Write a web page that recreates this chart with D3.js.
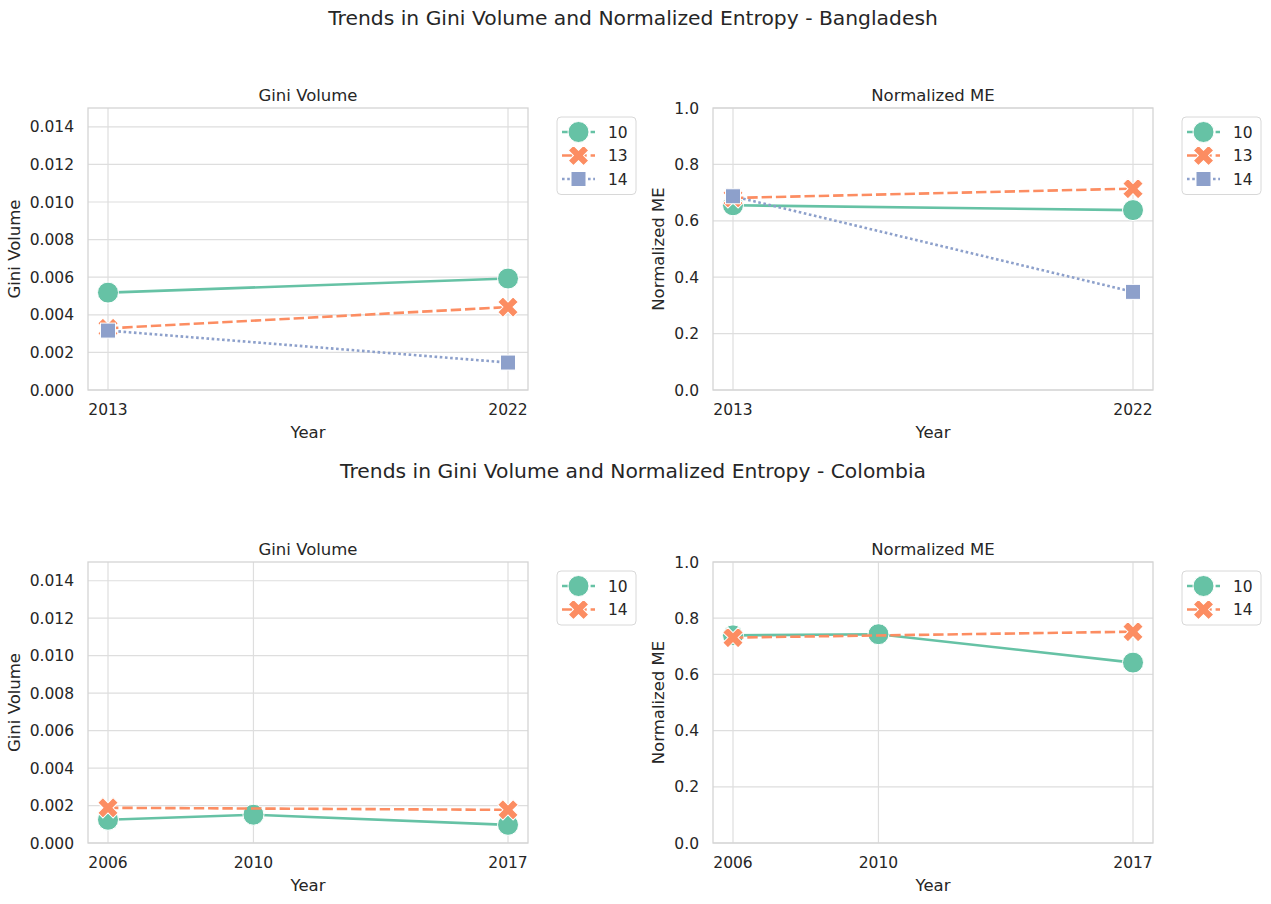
<!DOCTYPE html>
<html><head><meta charset="utf-8">
<script src="https://cdn.jsdelivr.net/npm/d3@7"></script>
<style>body{margin:0;background:#fff}text{font-family:"DejaVu Sans",sans-serif;fill:#262626}</style>
</head><body>
<svg id="c" width="1271" height="904"></svg>
<script>
// ---- data (null = no observation for that year) ----
const countries = ["Bangladesh", "Colombia"];
const bdYears = [2013, 2022];
const coYears = [2006, 2010, 2017];
const bdGroups = ["10", "13", "14"];
const coGroups = ["10", "14"];
const bdGini10 = [0.00518, 0.00593];
const bdGini13 = [0.00328, 0.00441];
const bdGini14 = [0.00316, 0.00146];
const bdNME10 = [0.655, 0.638];
const bdNME13 = [0.681, 0.714];
const bdNME14 = [0.687, 0.348];
const coGini10 = [0.00124, 0.00151, 0.00097];
const coGini14 = [0.00188, null, 0.00177];
const coNME10 = [0.739, 0.743, 0.642];
const coNME14 = [0.731, null, 0.752];
const giniTicks = [0, 0.002, 0.004, 0.006, 0.008, 0.010, 0.012, 0.014];
const nmeTicks = [0, 0.2, 0.4, 0.6, 0.8, 1.0];

// ---- styles ----
const colors = ["#66c2a5", "#fc8d62", "#8da0cb"];
const markers = ["circle", "x", "square"];
const LW = 2.6;
const dashes = ["none", `${4*LW},${1.5*LW}`, `${1*LW},${1*LW}`];

const svg = d3.select("#c");

function marker(g, type, x, y, color) {
  if (type === "circle") {
    g.append("circle").attr("cx", x).attr("cy", y).attr("r", 10.5)
      .attr("fill", color).attr("stroke", "#fff").attr("stroke-width", 1);
  } else if (type === "square") {
    g.append("rect").attr("x", x - 7.5).attr("y", y - 7.5).attr("width", 15).attr("height", 15)
      .attr("fill", color).attr("stroke", "#fff").attr("stroke-width", 1);
  } else {
    g.append("path").attr("d", d3.symbol(d3.symbolCross, 260)())
      .attr("transform", `translate(${x},${y}) rotate(45)`)
      .attr("fill", color).attr("stroke", "#fff").attr("stroke-width", 1);
  }
}

function panel(opt) {
  const {left, top, width, height, years, series, groups, yMax, ticks, fmt, title, ylabel, labelOff} = opt;
  const g = svg.append("g");
  const pad = width / 1.1 * 0.05;
  const x = d3.scaleLinear().domain([years[0], years[years.length - 1]]).range([left + pad, left + width - pad]);
  const y = d3.scaleLinear().domain([0, yMax]).range([top + height, top]);
  // grid
  g.selectAll(".gy").data(ticks).join("line")
    .attr("x1", left).attr("x2", left + width).attr("y1", d => y(d)).attr("y2", d => y(d))
    .attr("stroke", "#dedede").attr("stroke-width", 1.2);
  g.selectAll(".gx").data(years).join("line")
    .attr("y1", top).attr("y2", top + height).attr("x1", d => x(d)).attr("x2", d => x(d))
    .attr("stroke", "#dedede").attr("stroke-width", 1.2);
  // frame
  g.append("rect").attr("x", left).attr("y", top).attr("width", width).attr("height", height)
    .attr("fill", "none").attr("stroke", "#d4d4d4").attr("stroke-width", 1.3);
  // tick labels
  g.selectAll(".ty").data(ticks).join("text")
    .attr("x", left - 14).attr("y", d => y(d)).attr("dy", "0.36em")
    .attr("text-anchor", "end").attr("font-size", 15.5).text(d => d3.format(fmt)(d));
  g.selectAll(".tx").data(years).join("text")
    .attr("x", d => x(d)).attr("y", top + height + 25)
    .attr("text-anchor", "middle").attr("font-size", 15.5).text(d => d);
  // labels
  g.append("text").attr("x", left + width / 2).attr("y", top + height + 48)
    .attr("text-anchor", "middle").attr("font-size", 16.5).text("Year");
  g.append("text").attr("transform", `translate(${left - labelOff},${top + height / 2}) rotate(-90)`)
    .attr("text-anchor", "middle").attr("font-size", 16.5).text(ylabel);
  g.append("text").attr("x", left + width / 2).attr("y", top - 7)
    .attr("text-anchor", "middle").attr("font-size", 16.5).text(title);
  // lines + markers
  const line = d3.line().x(d => x(d[0])).y(d => y(d[1]));
  series.forEach((vals, i) => {
    const pts = years.map((yr, j) => [yr, vals[j]]).filter(p => p[1] != null);
    g.append("path").attr("d", line(pts)).attr("fill", "none")
      .attr("stroke", colors[i]).attr("stroke-width", LW)
      .attr("stroke-dasharray", dashes[i]);
    pts.forEach(p => marker(g, markers[i], x(p[0]), y(p[1]), colors[i]));
  });
  // legend
  const lx = left + width + 29, ly = top + 9;
  const rowH = 23.5;
  const lg = svg.append("g");
  lg.append("rect").attr("x", lx).attr("y", ly).attr("width", 79).attr("height", groups.length * rowH + 7)
    .attr("rx", 4).attr("fill", "#fff").attr("stroke", "#d8d8d8").attr("stroke-width", 1);
  groups.forEach((name, i) => {
    const cy = ly + 15 + i * rowH;
    lg.append("line").attr("x1", lx + 5).attr("x2", lx + 38).attr("y1", cy).attr("y2", cy)
      .attr("stroke", colors[i]).attr("stroke-width", LW).attr("stroke-dasharray", i === 0 ? `${4*LW},${1.5*LW}` : dashes[i]);
    marker(lg, markers[i], lx + 21.5, cy, colors[i]);
    lg.append("text").attr("x", lx + 51).attr("y", cy).attr("dy", "0.36em")
      .attr("font-size", 15.5).text(name);
  });
}

// suptitles
svg.append("text").attr("x", 633).attr("y", 25).attr("text-anchor", "middle").attr("font-size", 20.3)
  .text(`Trends in Gini Volume and Normalized Entropy - ${countries[0]}`);
svg.append("text").attr("x", 633).attr("y", 478).attr("text-anchor", "middle").attr("font-size", 20.3)
  .text(`Trends in Gini Volume and Normalized Entropy - ${countries[1]}`);

panel({left: 88, top: 108, width: 440, height: 282, years: bdYears, series: [bdGini10, bdGini13, bdGini14],
  groups: bdGroups, yMax: 0.015, ticks: giniTicks, fmt: ".3f", title: "Gini Volume", ylabel: "Gini Volume", labelOff: 68});
panel({left: 713, top: 108, width: 440, height: 282, years: bdYears, series: [bdNME10, bdNME13, bdNME14],
  groups: bdGroups, yMax: 1.0, ticks: nmeTicks, fmt: ".1f", title: "Normalized ME", ylabel: "Normalized ME", labelOff: 49});
panel({left: 88, top: 562, width: 440, height: 281, years: coYears, series: [coGini10, coGini14],
  groups: coGroups, yMax: 0.015, ticks: giniTicks, fmt: ".3f", title: "Gini Volume", ylabel: "Gini Volume", labelOff: 68});
panel({left: 713, top: 562, width: 440, height: 281, years: coYears, series: [coNME10, coNME14],
  groups: coGroups, yMax: 1.0, ticks: nmeTicks, fmt: ".1f", title: "Normalized ME", ylabel: "Normalized ME", labelOff: 49});
</script>
</body></html>
